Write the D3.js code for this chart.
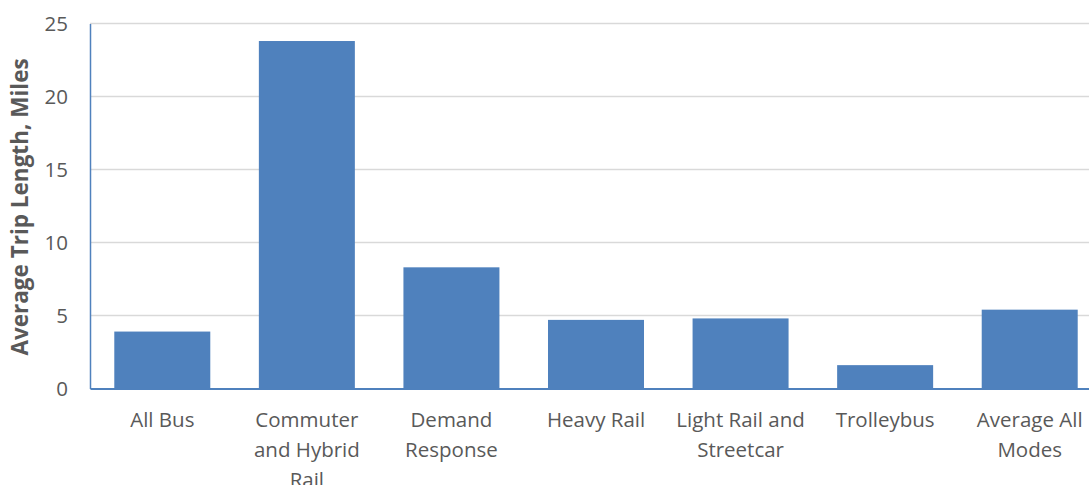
<!DOCTYPE html>
<html>
<head>
<meta charset="utf-8">
<script src="https://cdn.jsdelivr.net/npm/d3@7"></script>
<style>
  html, body { margin: 0; padding: 0; background: #ffffff; }
  svg { display: block; }
  text { font-family: "Open Sans", sans-serif; fill: #595959; }
</style>
</head>
<body>
<svg id="chart" width="1089" height="485"></svg>
<script>
// Average trip length by transit mode (miles)
const categories = [
  ["All Bus"],
  ["Commuter", "and Hybrid", "Rail"],
  ["Demand", "Response"],
  ["Heavy Rail"],
  ["Light Rail and", "Streetcar"],
  ["Trolleybus"],
  ["Average All", "Modes"]
];
const tripLength = [3.9, 23.8, 8.3, 4.7, 4.8, 1.6, 5.4];
const yTicks = [0, 5, 10, 15, 20, 25];
const yTitle = "Average Trip Length, Miles";

const svg = d3.select("#chart");
const plot = { left: 90, right: 1102, top: 23.5, bottom: 388.5 };

const keys = categories.map(c => c.join(" "));
const x = d3.scaleBand()
  .domain(keys)
  .range([plot.left, plot.right])
  .paddingInner(0.336)
  .paddingOuter(0.168);

const y = d3.scaleLinear()
  .domain([0, 25])
  .range([plot.bottom, plot.top]);

// horizontal gridlines
svg.append("g")
  .selectAll("line")
  .data(yTicks.filter(t => t > 0))
  .join("line")
  .attr("x1", plot.left)
  .attr("x2", plot.right)
  .attr("y1", d => y(d))
  .attr("y2", d => y(d))
  .attr("stroke", "#d9d9d9")
  .attr("stroke-width", 1.5);

// bars
svg.append("g")
  .selectAll("rect")
  .data(tripLength)
  .join("rect")
  .attr("x", (d, i) => x(keys[i]))
  .attr("width", x.bandwidth())
  .attr("y", d => y(d))
  .attr("height", d => y(0) - y(d))
  .attr("fill", "#4f81bd");

// y axis
const yAxis = svg.append("g")
  .attr("transform", `translate(${plot.left},0)`)
  .call(d3.axisLeft(y).tickValues(yTicks).tickSize(0).tickPadding(22));
yAxis.select(".domain").attr("stroke", "#4f81bd").attr("stroke-width", 1.5);
yAxis.selectAll("text")
  .style("font-size", "20.5px")
  .attr("fill", "#595959");

// x axis
const xAxis = svg.append("g")
  .attr("transform", `translate(0,${plot.bottom})`)
  .call(d3.axisBottom(x).tickSize(0).tickFormat(""));
xAxis.select(".domain").attr("stroke", "#4f81bd").attr("stroke-width", 2);

// multi-line category labels (the last line may run past the bottom edge)
xAxis.selectAll(".tick").each(function(d, i) {
  const t = d3.select(this).append("text")
    .attr("text-anchor", "middle")
    .style("font-size", "20.5px")
    .attr("fill", "#595959");
  categories[i].forEach((line, j) => {
    t.append("tspan")
      .attr("x", 0)
      .attr("y", 38 + j * 30)
      .text(line);
  });
});

// y axis title
svg.append("text")
  .attr("transform", `translate(28,207) rotate(-90)`)
  .attr("text-anchor", "middle")
  .style("font-size", "22.5px")
  .style("font-weight", "bold")
  .text(yTitle);
</script>
</body>
</html>
